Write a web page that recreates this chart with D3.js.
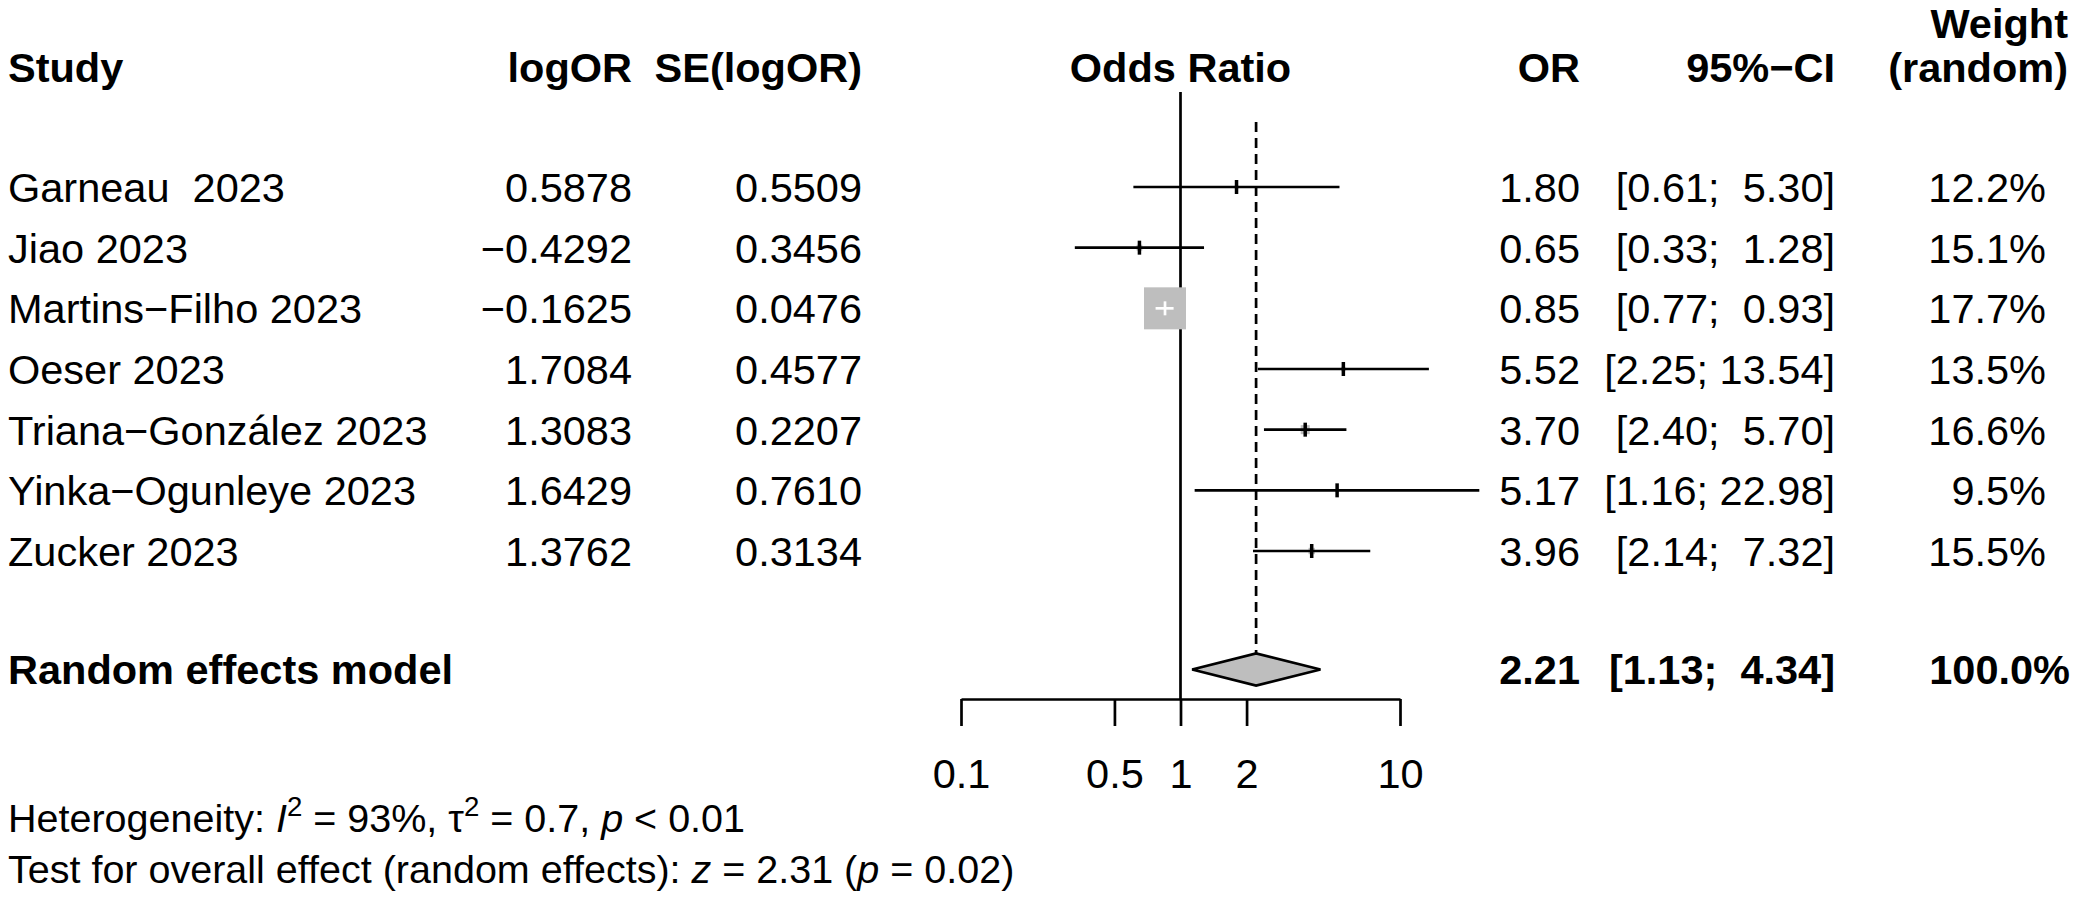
<!DOCTYPE html>
<html>
<head>
<meta charset="utf-8">
<script src="https://cdn.jsdelivr.net/npm/d3@7"></script>
<style>
  html, body { margin: 0; padding: 0; background: #fff; }
  svg text { font-family: "Liberation Sans", Arial, Helvetica, sans-serif; white-space: pre; fill: #000; }
</style>
</head>
<body>
<svg id="chart" width="2079" height="899"></svg>
<script>
// ---- data ----
const studies = ["Garneau  2023", "Jiao 2023", "Martins\u2212Filho 2023", "Oeser 2023",
                 "Triana\u2212Gonz\u00e1lez 2023", "Yinka\u2212Ogunleye 2023", "Zucker 2023"];
const logOR = [0.5878, -0.4292, -0.1625, 1.7084, 1.3083, 1.6429, 1.3762];
const seLogOR = [0.5509, 0.3456, 0.0476, 0.4577, 0.2207, 0.7610, 0.3134];
const oddsRatio = [1.80, 0.65, 0.85, 5.52, 3.70, 5.17, 3.96];
const ciLower = [0.61, 0.33, 0.77, 2.25, 2.40, 1.16, 2.14];
const ciUpper = [5.30, 1.28, 0.93, 13.54, 5.70, 22.98, 7.32];
const weightRandom = [12.2, 15.1, 17.7, 13.5, 16.6, 9.5, 15.5];

const overallLabel = "Random effects model";
const overallOR = 2.21, overallLower = 1.13, overallUpper = 4.34, overallWeight = 100.0;

const axisTicks = [0.1, 0.5, 1, 2, 10];
const headers = ["Study", "logOR", "SE(logOR)", "Odds Ratio", "OR", "95%\u2212CI", "Weight", "(random)"];
const hetI2 = "93%", hetTau2 = "0.7", hetP = "< 0.01";
const testZ = "2.31", testP = "0.02";

// ---- layout ----
const FS = 41.5, FS_FOOT = 39.5;
const svg = d3.select("#chart");
const x = d3.scaleLog().domain([0.1, 10]).range([961, 1400]);
const y = d3.scaleLinear().domain([0, studies.length - 1]).range([187, 551]);
const yOverall = 669.5, yAxis = 699;
const base = v => v + 0.36 * FS;
const fmtNum = (v, d) => v.toFixed(d).replace("-", "\u2212");
const fmtCI = (l, u) => "[" + l.toFixed(2) + "; " + u.toFixed(2).padStart(5, " ") + "]";
const fw = seLogOR.map(s => 1 / (s * s));
const size = d3.scaleSqrt().domain([0, d3.max(fw)]).range([0, 42]);

const colX = { study: 8, logOR: 632, se: 862, or: 1580, ci: 1835, w: 2046, wAll: 2070 };
const LW = 2.7;

// ---- headers ----
const hdr = svg.append("g").attr("font-weight", "bold").attr("font-size", FS);
hdr.append("text").attr("x", colX.study).attr("y", 82).text(headers[0]);
hdr.append("text").attr("x", colX.logOR).attr("y", 82).attr("text-anchor", "end").text(headers[1]);
hdr.append("text").attr("x", colX.se).attr("y", 82).attr("text-anchor", "end").text(headers[2]);
hdr.append("text").attr("x", x(1)).attr("y", 82).attr("text-anchor", "middle").text(headers[3]);
hdr.append("text").attr("x", colX.or).attr("y", 82).attr("text-anchor", "end").text(headers[4]);
hdr.append("text").attr("x", colX.ci).attr("y", 82).attr("text-anchor", "end").text(headers[5]);
hdr.append("text").attr("x", colX.wAll - 2).attr("y", 38).attr("text-anchor", "end").text(headers[6]);
hdr.append("text").attr("x", colX.wAll - 2).attr("y", 82).attr("text-anchor", "end").text(headers[7]);

// ---- study rows text ----
const rows = svg.append("g").attr("font-size", FS);
studies.forEach((s, i) => {
  const by = base(y(i));
  rows.append("text").attr("x", colX.study).attr("y", by).text(s);
  rows.append("text").attr("x", colX.logOR).attr("y", by).attr("text-anchor", "end").text(fmtNum(logOR[i], 4));
  rows.append("text").attr("x", colX.se).attr("y", by).attr("text-anchor", "end").text(fmtNum(seLogOR[i], 4));
  rows.append("text").attr("x", colX.or).attr("y", by).attr("text-anchor", "end").text(oddsRatio[i].toFixed(2));
  rows.append("text").attr("x", colX.ci).attr("y", by).attr("text-anchor", "end").text(fmtCI(ciLower[i], ciUpper[i]));
  rows.append("text").attr("x", colX.w).attr("y", by).attr("text-anchor", "end").text(weightRandom[i].toFixed(1) + "%");
});

// ---- overall row text ----
const ov = svg.append("g").attr("font-size", FS).attr("font-weight", "bold");
const oby = base(yOverall);
ov.append("text").attr("x", colX.study).attr("y", oby).text(overallLabel);
ov.append("text").attr("x", colX.or).attr("y", oby).attr("text-anchor", "end").text(overallOR.toFixed(2));
ov.append("text").attr("x", colX.ci).attr("y", oby).attr("text-anchor", "end").text(fmtCI(overallLower, overallUpper));
ov.append("text").attr("x", colX.wAll).attr("y", oby).attr("text-anchor", "end").text(overallWeight.toFixed(1) + "%");

// ---- reference lines ----
svg.append("line").attr("x1", x(1)).attr("x2", x(1)).attr("y1", 92).attr("y2", yAxis)
  .attr("stroke", "#000").attr("stroke-width", LW);
svg.append("line").attr("x1", x(overallOR)).attr("x2", x(overallOR)).attr("y1", 122).attr("y2", yOverall - 16)
  .attr("stroke", "#000").attr("stroke-width", LW).attr("stroke-dasharray", "10,6");

// ---- study marks ----
const marks = svg.append("g");
studies.forEach((s, i) => {
  const cy = y(i), cx = x(oddsRatio[i]), sz = size(fw[i]);
  const inside = x(ciLower[i]) >= cx - sz / 2 && x(ciUpper[i]) <= cx + sz / 2;
  marks.append("rect").attr("x", cx - sz / 2).attr("y", cy - sz / 2).attr("width", sz).attr("height", sz)
    .attr("fill", "#bebebe");
  const col = inside ? "#fff" : "#000";
  marks.append("line").attr("x1", x(ciLower[i])).attr("x2", x(ciUpper[i])).attr("y1", cy).attr("y2", cy)
    .attr("stroke", col).attr("stroke-width", LW);
  marks.append("line").attr("x1", cx).attr("x2", cx).attr("y1", cy - 7).attr("y2", cy + 7)
    .attr("stroke", col).attr("stroke-width", inside ? LW : 3.5);
});

// ---- diamond ----
svg.append("polygon")
  .attr("points", [[x(overallLower), yOverall], [x(overallOR), yOverall - 16],
                   [x(overallUpper), yOverall], [x(overallOR), yOverall + 16]].map(p => p.join(",")).join(" "))
  .attr("fill", "#bebebe").attr("stroke", "#000").attr("stroke-width", LW).attr("stroke-linejoin", "miter");

// ---- axis ----
const ax = svg.append("g").attr("transform", `translate(0,${yAxis})`)
  .call(d3.axisBottom(x).tickValues(axisTicks).tickSize(27).tickSizeOuter(0).tickPadding(33)
        .tickFormat(d => String(d)));
ax.select(".domain").attr("stroke", "#000").attr("stroke-width", LW);
ax.selectAll(".tick line").attr("stroke", "#000").attr("stroke-width", LW);
ax.selectAll(".tick text").attr("font-size", FS).attr("font-family", "Liberation Sans, Arial, sans-serif").attr("fill", "#000");

// ---- footer ----
const SUP = 16;
const f1 = svg.append("text").attr("x", 8).attr("y", 832).attr("font-size", FS_FOOT);
f1.append("tspan").text("Heterogeneity: ");
f1.append("tspan").attr("font-style", "italic").text("I");
f1.append("tspan").attr("font-size", FS_FOOT * 0.7).attr("dy", -SUP).text("2");
f1.append("tspan").attr("dy", SUP).text(" = " + hetI2 + ", \u03c4");
f1.append("tspan").attr("font-size", FS_FOOT * 0.7).attr("dy", -SUP).text("2");
f1.append("tspan").attr("dy", SUP).text(" = " + hetTau2 + ", ");
f1.append("tspan").attr("font-style", "italic").text("p");
f1.append("tspan").text(" " + hetP);

const f2 = svg.append("text").attr("x", 8).attr("y", 883).attr("font-size", FS_FOOT);
f2.append("tspan").text("Test for overall effect (random effects): ");
f2.append("tspan").attr("font-style", "italic").text("z");
f2.append("tspan").text(" = " + testZ + " (");
f2.append("tspan").attr("font-style", "italic").text("p");
f2.append("tspan").text(" = " + testP + ")");
</script>
</body>
</html>
